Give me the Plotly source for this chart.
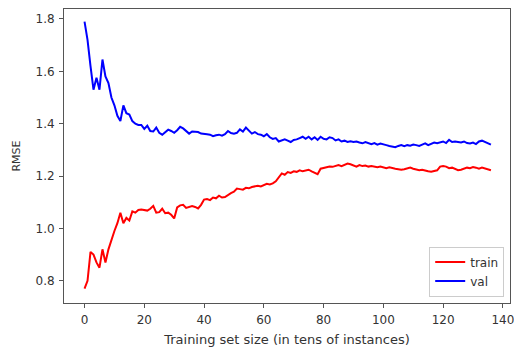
import plotly.graph_objects as go

sizes = list(range(137))

train_rmse = [
    0.77, 0.80, 0.91, 0.90, 0.87, 0.85, 0.92, 0.87, 0.92, 0.96,
    0.99, 1.02, 1.06, 1.02, 1.04, 1.03, 1.065, 1.06, 1.07, 1.072,
    1.07, 1.068, 1.075, 1.086, 1.06, 1.062, 1.075, 1.058, 1.06, 1.052,
    1.038, 1.08, 1.088, 1.09, 1.078, 1.082, 1.085, 1.082, 1.076, 1.09,
    1.11, 1.112, 1.108, 1.118, 1.115, 1.125, 1.118, 1.12, 1.128, 1.135,
    1.14, 1.152, 1.15, 1.148, 1.155, 1.153, 1.158, 1.16, 1.163, 1.16,
    1.166, 1.17, 1.168, 1.172, 1.18, 1.195, 1.21, 1.205, 1.215, 1.212,
    1.218, 1.216, 1.222, 1.218, 1.22, 1.224, 1.218, 1.212, 1.207, 1.228,
    1.23, 1.233, 1.236, 1.235, 1.24, 1.242, 1.238, 1.244, 1.248, 1.245,
    1.24, 1.236, 1.242, 1.238, 1.24, 1.236, 1.238, 1.236, 1.234, 1.236,
    1.232, 1.23, 1.233, 1.229, 1.228, 1.226, 1.224, 1.226, 1.23, 1.232,
    1.228, 1.226, 1.222, 1.224, 1.22, 1.218, 1.216, 1.218, 1.222, 1.236,
    1.238, 1.236, 1.23, 1.232, 1.226, 1.222, 1.224, 1.228, 1.232, 1.23,
    1.234, 1.232, 1.228, 1.232, 1.228, 1.224, 1.222,
]

val_rmse = [
    1.79, 1.72, 1.62, 1.53, 1.575, 1.53, 1.645, 1.58, 1.555, 1.50,
    1.47, 1.43, 1.41, 1.47, 1.44, 1.435, 1.41, 1.40, 1.395, 1.395,
    1.38, 1.392, 1.372, 1.37, 1.385, 1.365, 1.358, 1.368, 1.377, 1.372,
    1.365, 1.375, 1.388, 1.382, 1.37, 1.362, 1.37, 1.368, 1.368, 1.362,
    1.362, 1.36, 1.358, 1.352, 1.356, 1.358, 1.354, 1.36, 1.372, 1.364,
    1.362, 1.365, 1.378, 1.37, 1.385, 1.372, 1.362, 1.368, 1.36, 1.358,
    1.352, 1.36, 1.348, 1.342, 1.345, 1.332, 1.335, 1.34, 1.335, 1.33,
    1.338, 1.34, 1.345, 1.35, 1.342, 1.35, 1.34, 1.348, 1.338, 1.35,
    1.342, 1.34, 1.348, 1.345, 1.336, 1.34, 1.332, 1.335, 1.33, 1.333,
    1.33, 1.332, 1.328, 1.325, 1.33, 1.325, 1.322, 1.326, 1.32, 1.324,
    1.322, 1.318, 1.315, 1.312, 1.31, 1.315, 1.318, 1.314, 1.318, 1.316,
    1.32, 1.318, 1.315, 1.32, 1.325, 1.318, 1.322, 1.328, 1.325, 1.33,
    1.332, 1.326, 1.338, 1.33, 1.332, 1.33, 1.328, 1.332, 1.326, 1.324,
    1.328, 1.322, 1.332, 1.335, 1.33, 1.326, 1.32,
]

x_ticks = [0, 20, 40, 60, 80, 100, 120, 140]
y_ticks = [0.8, 1.0, 1.2, 1.4, 1.6, 1.8]

fig = go.Figure()
fig.add_trace(go.Scatter(x=sizes, y=train_rmse, mode="lines", name="train",
                         line=dict(color="#ff0000", width=2)))
fig.add_trace(go.Scatter(x=sizes, y=val_rmse, mode="lines", name="val",
                         line=dict(color="#0000ff", width=2)))

axis_common = dict(showgrid=False, zeroline=False, showline=True, linecolor="#555",
                   linewidth=1, mirror=True, ticks="outside", ticklen=4,
                   tickcolor="#555", tickfont=dict(size=12, color="#333"),
                   ticklabelstandoff=2)

fig.update_layout(
    width=514, height=347,
    margin=dict(l=64, r=0, t=9, b=44),
    paper_bgcolor="white", plot_bgcolor="white",
    font=dict(family="DejaVu Sans", size=12, color="#333"),
    showlegend=True,
    legend=dict(x=0.987, y=0.022, xanchor="right", yanchor="bottom",
                bgcolor="rgba(255,255,255,0.9)", bordercolor="#ccc", borderwidth=1,
                font=dict(size=12, color="#333"), tracegroupgap=2,
                itemwidth=30),
    xaxis=dict(range=[-6.87, 142.38], tickvals=x_ticks, ticklabeloverflow="allow",
               title=dict(text="Training set size (in tens of instances)",
                          font=dict(size=13, color="#333"), standoff=8),
               **axis_common),
    yaxis=dict(range=[0.715, 1.838], tickvals=y_ticks, tickformat=".1f",
               title=dict(text="RMSE", font=dict(size=11, color="#333"), standoff=12),
               **axis_common),
)

fig.write_html("out.html")
